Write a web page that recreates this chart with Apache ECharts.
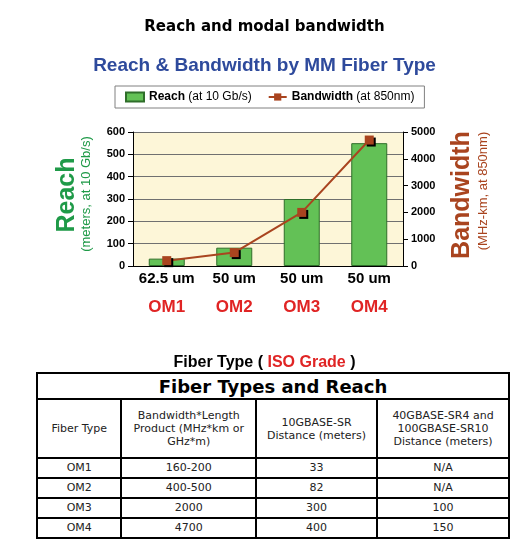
<!DOCTYPE html>
<html lang="en">
<head>
    <meta charset="UTF-8">
    <title>Reach and modal bandwidth</title>
    <script src="https://cdn.jsdelivr.net/npm/echarts@6/dist/echarts.min.js"></script>
    <style>
        html, body { margin: 0; padding: 0; background: #fff; }
        #container { position: absolute; left: 0; top: 0; width: 529px; height: 545px; }
        #tbl {
            position: absolute; left: 36px; top: 372px; width: 474px;
            border-collapse: collapse; font-family: 'DejaVu Sans', Verdana, sans-serif;
            font-size: 11px; color: #222; z-index: 2; background: #fff;
        }
        #tbl td, #tbl th { border: 2px solid #000; text-align: center; padding: 0; }
        #tbl th { font-size: 18px; font-weight: bold; color: #000; height: 24px; }
        #tbl tr.head td { height: 57px; line-height: 13px; }
        #tbl tr.row td { height: 18px; line-height: 18px; }
    </style>
</head>
<body>

<div id="container"></div>
<table id="tbl"></table>
<script type="text/javascript">
    // chart data
    var grades = ['OM1', 'OM2', 'OM3', 'OM4'];
    var coreSizes = ['62.5 um', '50 um', '50 um', '50 um'];
    var reach = [33, 82, 300, 550];
    var bandwidth = [200, 500, 2000, 4700];

    // table data
    var tableTitle = 'Fiber Types and Reach';
    var tableHeaders = ['Fiber Type', 'Bandwidth*Length<br>Product (MHz*km or<br>GHz*m)',
        '10GBASE-SR<br>Distance (meters)', '40GBASE-SR4 and<br>100GBASE-SR10<br>Distance (meters)'];
    var colWidths = [85, 134, 122, 133];
    var bwProduct = ['160-200', '400-500', '2000', '4700'];
    var dist10G = ['33', '82', '300', '400'];
    var dist40G = ['N/A', 'N/A', '100', '150'];

    var arial = "'Liberation Sans', Arial, sans-serif";
    var green = '#1f9a48';
    var brown = '#a9441f';

    var dom = document.getElementById("container");
    var myChart = echarts.init(dom);
    var option = {
        animation: false,
        title: [
            {
                text: 'Reach and modal bandwidth',
                left: 'center', top: 17, padding: 0,
                textStyle: { fontFamily: "'DejaVu Sans', Verdana", fontSize: 15, fontWeight: 'bold', color: '#000', lineHeight: 20 }
            },
            {
                text: 'Reach & Bandwidth by MM Fiber Type',
                left: 'center', top: 54, padding: 0,
                textStyle: { fontFamily: arial, fontSize: 19, fontWeight: 'bold', color: '#2e4a9c', lineHeight: 24 }
            },
            {
                text: '{a|Fiber Type ( }{r|ISO Grade}{a| )}',
                left: 'center', top: 353, padding: 0,
                textStyle: {
                    rich: {
                        a: { fontFamily: arial, fontSize: 16, fontWeight: 'bold', color: '#000', lineHeight: 20 },
                        r: { fontFamily: arial, fontSize: 16, fontWeight: 'bold', color: '#e02424', lineHeight: 20 }
                    }
                }
            }
        ],
        legend: {
            left: 115, top: 86,
            padding: [5, 10, 5, 10],
            borderColor: '#808080', borderWidth: 1,
            backgroundColor: '#fff',
            itemWidth: 18, itemHeight: 9, itemGap: 16,
            data: [{ name: 'Reach', icon: 'rect' }, { name: 'Bandwidth' }],
            formatter: function (name) {
                return name === 'Reach' ? '{b|Reach} (at 10 Gb/s)' : '{b|Bandwidth} (at 850nm)';
            },
            textStyle: {
                fontFamily: arial, fontSize: 12, color: '#000',
                rich: { b: { fontFamily: arial, fontSize: 12, fontWeight: 'bold', color: '#000' } }
            }
        },
        grid: {
            left: 133, top: 132, width: 270, height: 134,
            show: true, backgroundColor: '#fdf6d8', borderWidth: 0
        },
        xAxis: {
            type: 'category',
            data: grades,
            axisLine: { show: true, lineStyle: { color: '#000', width: 1 } },
            axisTick: { show: false },
            axisLabel: {
                margin: 2,
                interval: 0,
                hideOverlap: false,
                formatter: function (v, i) { return '{a|' + coreSizes[i] + '}\n{b|' + v + '}'; },
                rich: {
                    a: { fontFamily: arial, fontSize: 15, fontWeight: 'bold', color: '#000', lineHeight: 22 },
                    b: { fontFamily: arial, fontSize: 17, fontWeight: 'bold', color: '#e02424', lineHeight: 34 }
                }
            }
        },
        yAxis: [
            {
                type: 'value', position: 'left',
                min: 0, max: 600, interval: 100,
                axisLine: { show: true, lineStyle: { color: '#000', width: 1 } },
                axisTick: { show: true, length: 5, lineStyle: { color: '#000' } },
                axisLabel: { margin: 8, fontFamily: arial, fontSize: 11, fontWeight: 'bold', color: '#000' },
                splitLine: { show: true, lineStyle: { color: '#707070', width: 1 } }
            },
            {
                type: 'value', position: 'right',
                min: 0, max: 5000, interval: 1000,
                axisLine: { show: true, lineStyle: { color: '#000', width: 1 } },
                axisTick: { show: true, length: 5, lineStyle: { color: '#000' } },
                axisLabel: {
                    margin: 8, fontFamily: arial, fontSize: 11, fontWeight: 'bold', color: '#000',
                    formatter: function (v) { return String(v); }
                },
                splitLine: { show: false }
            }
        ],
        graphic: [
            { type: 'text', x: 67, y: 195, rotation: Math.PI / 2,
              style: { text: 'Reach', fill: green, font: 'bold 25px ' + arial, textAlign: 'center', textVerticalAlign: 'middle' } },
            { type: 'text', x: 86, y: 194, rotation: Math.PI / 2,
              style: { text: '(meters, at 10 Gb/s)', fill: green, font: '13px ' + arial, textAlign: 'center', textVerticalAlign: 'middle' } },
            { type: 'text', x: 462, y: 195, rotation: Math.PI / 2,
              style: { text: 'Bandwidth', fill: brown, font: 'bold 25px ' + arial, textAlign: 'center', textVerticalAlign: 'middle' } },
            { type: 'text', x: 483, y: 191, rotation: Math.PI / 2,
              style: { text: '(MHz-km, at 850nm)', fill: brown, font: '13px ' + arial, textAlign: 'center', textVerticalAlign: 'middle' } }
        ],
        series: [
            {
                name: 'Reach',
                type: 'bar',
                barWidth: 36,
                data: reach,
                itemStyle: { color: '#63c156', borderColor: '#2f6e2a', borderWidth: 1 }
            },
            {
                name: 'Bandwidth',
                type: 'line',
                yAxisIndex: 1,
                data: bandwidth,
                symbol: 'rect',
                symbolSize: 9,
                lineStyle: { color: brown, width: 2 },
                itemStyle: { color: brown, shadowColor: '#000', shadowOffsetX: 2, shadowOffsetY: 2, shadowBlur: 0 }
            }
        ]
    };
    myChart.setOption(option, true);

    // table below the chart
    var html = '<tr><th colspan="4">' + tableTitle + '</th></tr><tr class="head">';
    for (var c = 0; c < tableHeaders.length; c++) {
        html += '<td style="width:' + colWidths[c] + 'px">' + tableHeaders[c] + '</td>';
    }
    html += '</tr>';
    for (var i = 0; i < grades.length; i++) {
        html += '<tr class="row"><td>' + grades[i] + '</td><td>' + bwProduct[i] + '</td><td>' +
            dist10G[i] + '</td><td>' + dist40G[i] + '</td></tr>';
    }
    document.getElementById('tbl').innerHTML = html;
</script>
</body>
</html>
